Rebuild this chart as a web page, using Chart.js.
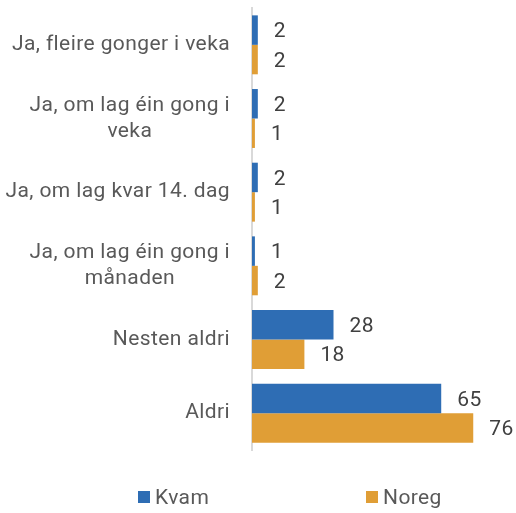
<!DOCTYPE html>
<html>
<head>
<meta charset="utf-8">
<script src="https://cdn.jsdelivr.net/npm/chart.js@4/dist/chart.umd.min.js"></script>
<style>
  html, body { margin: 0; padding: 0; background: #fff; }
  #wrap { position: relative; width: 516px; height: 513px; }
  #legend { position: absolute; top: 485px; left: 0; width: 516px; height: 24px;
            font-family: Roboto, sans-serif; font-size: 21px; letter-spacing: 0.4px; color: #595959; }
  .item { position: absolute; top: 0; display: flex; align-items: center; height: 24px; }
  .sw { width: 12px; height: 12px; margin-right: 5px; }
</style>
</head>
<body>
<div id="wrap">
  <canvas id="c" width="516" height="513"></canvas>
  <div id="legend"></div>
</div>
<script>
const categories = [
  ["Ja, fleire gonger i veka"],
  ["Ja, om lag éin gong i", "veka"],
  ["Ja, om lag kvar 14. dag"],
  ["Ja, om lag éin gong i", "månaden"],
  ["Nesten aldri"],
  ["Aldri"]
];
const seriesNames = ["Kvam", "Noreg"];
const kvam = [2, 2, 2, 1, 28, 65];
const noreg = [2, 1, 1, 2, 18, 76];
const colors = ["#2E6DB4", "#E09E36"];
const FONT = "Roboto, sans-serif";
const FONT_SIZE = 21;

// Value labels at the end of each bar
const valueLabels = {
  id: "valueLabels",
  afterDatasetsDraw(chart) {
    const ctx = chart.ctx;
    ctx.save();
    ctx.font = FONT_SIZE + "px " + FONT;
    ctx.letterSpacing = "0.4px";
    ctx.fillStyle = "#404040";
    ctx.textAlign = "left";
    ctx.textBaseline = "middle";
    chart.data.datasets.forEach((ds, i) => {
      chart.getDatasetMeta(i).data.forEach((bar, j) => {
        ctx.fillText(String(ds.data[j]), bar.x + 16, bar.y + 2);
      });
    });
    ctx.restore();
  }
};

// Category labels: right-aligned block, lines centred within the block
const categoryLabels = {
  id: "categoryLabels",
  afterDraw(chart) {
    const ctx = chart.ctx;
    const y = chart.scales.y;
    const right = chart.chartArea.left - 22;
    const lh = 26;
    ctx.save();
    ctx.font = FONT_SIZE + "px " + FONT;
    ctx.letterSpacing = "0.4px";
    ctx.fillStyle = "#595959";
    ctx.textAlign = "center";
    ctx.textBaseline = "middle";
    categories.forEach((lines, i) => {
      const cy = y.getPixelForTick(i);
      const w = Math.max(...lines.map(l => ctx.measureText(l).width));
      const cx = right - w / 2;
      const top = cy - (lines.length - 1) * lh / 2;
      lines.forEach((l, k) => ctx.fillText(l, cx, top + k * lh));
    });
    ctx.restore();
  }
};

new Chart(document.getElementById("c"), {
  type: "bar",
  data: {
    labels: categories,
    datasets: [
      { label: seriesNames[0], data: kvam, backgroundColor: colors[0] },
      { label: seriesNames[1], data: noreg, backgroundColor: colors[1] }
    ]
  },
  options: {
    indexAxis: "y",
    responsive: false,
    animation: false,
    layout: { padding: { top: 8, bottom: 63, right: 2, left: 0 } },
    datasets: { bar: { categoryPercentage: 0.8, barPercentage: 1.0 } },
    scales: {
      x: { display: false, min: 0, max: 90 },
      y: {
        ticks: { display: false },
        grid: { display: false },
        border: { display: true, color: "#D9D9D9", width: 2 },
        afterFit(s) { s.width = 252; }
      }
    },
    plugins: { legend: { display: false }, tooltip: { enabled: false } }
  },
  plugins: [valueLabels, categoryLabels]
});

// Legend
const legend = document.getElementById("legend");
const lefts = [138, 366];
seriesNames.forEach((n, i) => {
  const d = document.createElement("div");
  d.className = "item";
  d.style.left = lefts[i] + "px";
  d.innerHTML = '<span class="sw" style="background:' + colors[i] + '"></span><span>' + n + '</span>';
  legend.appendChild(d);
});
</script>
</body>
</html>
